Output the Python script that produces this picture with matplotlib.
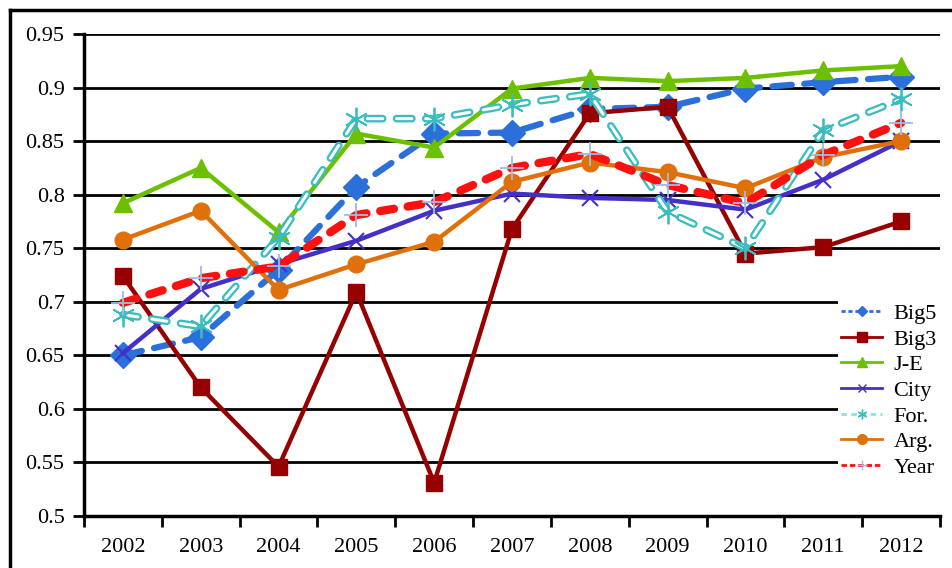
import matplotlib
matplotlib.use("Agg")
import matplotlib.pyplot as plt
from matplotlib.lines import Line2D
import numpy as np

plt.rcParams["font.family"] = ["Liberation Serif", "DejaVu Serif"]
plt.rcParams["lines.scale_dashes"] = False

years = ["2002", "2003", "2004", "2005", "2006", "2007", "2008", "2009", "2010", "2011", "2012"]

big5 = [0.650, 0.667, 0.730, 0.807, 0.857, 0.858, 0.880, 0.882, 0.899, 0.905, 0.910]
big3 = [0.724, 0.620, 0.546, 0.709, 0.531, 0.768, 0.876, 0.882, 0.745, 0.751, 0.775]
je = [0.792, 0.825, 0.765, 0.857, 0.844, 0.899, 0.909, 0.906, 0.909, 0.916, 0.920]
city = [0.652, 0.712, 0.735, 0.757, 0.785, 0.801, 0.797, 0.795, 0.786, 0.814, 0.850]
foreign = [0.688, 0.677, 0.760, 0.871, 0.871, 0.884, 0.894, 0.784, 0.750, 0.860, 0.889]
arg = [0.758, 0.785, 0.711, 0.735, 0.756, 0.812, 0.830, 0.821, 0.806, 0.835, 0.850]
year = [0.699, 0.722, 0.733, 0.781, 0.793, 0.825, 0.838, 0.809, 0.792, 0.837, 0.867]

c_big5 = "#2B6FDA"
c_big3 = "#960000"
c_je = "#6CC000"
c_city = "#4430C8"
c_for = "#3BBDC0"
c_arg = "#E0700A"
c_year = "#FF1010"
c_plus = "#9DBDE3"

x = np.arange(len(years))

fig = plt.figure(figsize=(9.53, 5.68), dpi=100)
ax = fig.add_axes([84 / 953, 1 - 516 / 568, (940 - 84) / 953, (516 - 34) / 568])

# grid first so the series sit on top
for v in np.arange(0.55, 0.951, 0.05):
    ax.axhline(v, color="black", lw=2.0, zorder=1)

ax.plot(x, big5, color=c_big5, lw=4.5, dashes=(14, 9), dash_capstyle="round",
        marker="D", ms=13, mfc=c_big5, mec=c_big5, zorder=3)
ax.plot(x, big3, color=c_big3, lw=3.2, marker="s", ms=12, mfc=c_big3, mec=c_big3, zorder=4)
ax.plot(x, je, color=c_je, lw=3.2, marker="^", ms=13, mfc=c_je, mec=c_je, zorder=5)
ax.plot(x, city, color=c_city, lw=3.2, marker="x", ms=11, mew=1.5, mec=c_city, zorder=6)

# hollow dashed line: thick cyan stroke with a white core
ax.plot(x, foreign, color=c_for, lw=5.5, dashes=(11, 10), dash_capstyle="round", zorder=7)
ax.plot(x, foreign, color="white", lw=2.2, dashes=(11, 10), dash_capstyle="round", zorder=7)
ax.plot(x, foreign, ls="none", marker=(6, 2, 0), ms=17, mew=1.3, mec=c_for, zorder=7)

ax.plot(x, arg, color=c_arg, lw=3.2, marker="o", ms=12, mfc=c_arg, mec=c_arg, zorder=8)
ax.plot(x, year, color=c_year, lw=6, dashes=(10, 10), dash_capstyle="round", zorder=9)
ax.plot(x, year, ls="none", marker="+", ms=17, mew=1.3, mec=c_plus, zorder=9)

ax.set_xlim(-0.5, len(years) - 0.5)
ax.set_ylim(0.5, 0.95)
ax.set_yticks(np.arange(0.5, 0.951, 0.05))
ax.set_yticklabels(["0.5", "0.55", "0.6", "0.65", "0.7", "0.75", "0.8", "0.85", "0.9", "0.95"])
ax.set_xticks(x)
ax.set_xticklabels(years)
ax.set_xticks(np.arange(-0.5, len(years)), minor=True)
ax.tick_params(axis="x", which="major", length=0, labelsize=16, pad=16)
ax.tick_params(axis="x", which="minor", length=8, width=2, direction="out")
ax.tick_params(axis="y", length=8, width=2, direction="out", labelsize=16, pad=6)

for s in ["top", "right"]:
    ax.spines[s].set_visible(False)
for s in ["left", "bottom"]:
    ax.spines[s].set_linewidth(2.5)

handles = [
    Line2D([], [], color=c_big5, lw=2, dashes=(3, 2), marker="D", ms=5),
    Line2D([], [], color=c_big3, lw=2, marker="s", ms=7),
    Line2D([], [], color=c_je, lw=2, marker="^", ms=7),
    Line2D([], [], color=c_city, lw=2, marker="x", ms=6),
    Line2D([], [], color="#8FE0E0", lw=2, dashes=(4, 3), marker=(6, 2, 0), ms=7, mec=c_for),
    Line2D([], [], color=c_arg, lw=2, marker="o", ms=7),
    Line2D([], [], color=c_year, lw=2, dashes=(4, 2), marker="+", ms=7, mec=c_plus),
]
labels = ["Big5", "Big3", "J-E", "City", "For.", "Arg.", "Year"]
leg = fig.legend(handles, labels, loc="upper left", bbox_to_anchor=(838 / 953, 1 - 300 / 568),
                 frameon=True, framealpha=1, fontsize=16, handlelength=1.85, handletextpad=0.5,
                 labelspacing=0.23, borderpad=0.15, borderaxespad=0, fancybox=False)
leg.get_frame().set_edgecolor("white")
leg.get_frame().set_facecolor("white")
leg.get_frame().set_linewidth(0)
leg.set_zorder(20)

# outer frame around the chart
fig.add_artist(Line2D([10 / 953, 10 / 953], [0, 1 - 10 / 568], color="black", lw=2.5))
fig.add_artist(Line2D([10 / 953, 1], [1 - 10 / 568, 1 - 10 / 568], color="black", lw=2.5))

plt.savefig("out.png", dpi=100)
